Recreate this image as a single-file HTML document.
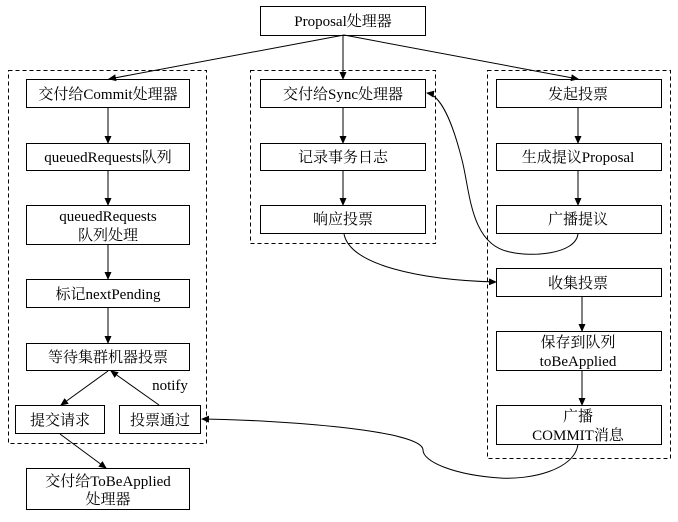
<!DOCTYPE html>
<html><head><meta charset="utf-8"><style>
html,body{margin:0;padding:0;background:#fff;}
svg text{font-family:"Liberation Serif","Noto Serif CJK SC",serif;font-size:15px;fill:#000;}
</style></head><body>
<svg width="678" height="517" viewBox="0 0 678 517" xmlns="http://www.w3.org/2000/svg">
<defs><marker id="a" markerWidth="8" markerHeight="8" refX="7" refY="4" orient="auto" markerUnits="userSpaceOnUse"><path d="M0,0.5 L8,4 L0,7.5 Z" fill="#000"/></marker></defs>
<g fill="none" stroke="#000" stroke-dasharray="4,3">
<rect x="8.5" y="70.5" width="198" height="373"/>
<rect x="250.5" y="70.5" width="185" height="173"/>
<rect x="487.5" y="70.5" width="183" height="388"/>
</g>
<g fill="#fff" stroke="#000">
<rect x="260.5" y="6.5" width="165" height="29"/>
<rect x="26.5" y="79.5" width="163" height="28"/>
<rect x="26.5" y="143.5" width="163" height="27"/>
<rect x="26.5" y="205.5" width="163" height="39"/>
<rect x="26.5" y="279.5" width="163" height="28"/>
<rect x="26.5" y="343.5" width="163" height="27"/>
<rect x="15.5" y="405.5" width="89" height="28"/>
<rect x="119.5" y="405.5" width="81" height="28"/>
<rect x="26.5" y="468.5" width="163" height="41"/>
<rect x="260.5" y="79.5" width="165" height="28"/>
<rect x="260.5" y="143.5" width="165" height="27"/>
<rect x="260.5" y="205.5" width="165" height="28"/>
<rect x="496.5" y="79.5" width="165" height="28"/>
<rect x="496.5" y="143.5" width="165" height="27"/>
<rect x="496.5" y="205.5" width="165" height="28"/>
<rect x="496.5" y="268.5" width="165" height="28"/>
<rect x="496.5" y="331.5" width="165" height="39"/>
<rect x="496.5" y="405.5" width="165" height="39"/>
</g>
<g stroke="#000" fill="none" marker-end="url(#a)">
<line x1="344" y1="35" x2="109" y2="79"/>
<line x1="343" y1="35" x2="343" y2="79"/>
<line x1="344" y1="35" x2="578" y2="79"/>
<line x1="108" y1="108" x2="108" y2="143"/>
<line x1="108" y1="171" x2="108" y2="205"/>
<line x1="108" y1="245" x2="108" y2="279"/>
<line x1="108" y1="308" x2="108" y2="343"/>
<line x1="108" y1="371" x2="61" y2="405"/>
<line x1="159" y1="405" x2="111" y2="371"/>
<line x1="60" y1="434" x2="106" y2="468"/>
<line x1="343" y1="108" x2="343" y2="143"/>
<line x1="343" y1="171" x2="343" y2="205"/>
<line x1="578" y1="108" x2="578" y2="143"/>
<line x1="578" y1="171" x2="578" y2="205"/>
<line x1="582" y1="297" x2="582" y2="331"/>
<line x1="582" y1="371" x2="582" y2="405"/>
<path d="M578,234 C575,255 530,257 510,252 C470,245 470,190 462,160 C452,120 440,95 427,93"/>
<path d="M344,234 C350,265 420,280 496,282"/>
<path d="M578,444 C575,470 530,480 500,478 C455,475 423,462 423,450 C423,430 280,420 202,419"/>
</g>
<g text-anchor="middle">
<text x="343" y="26">Proposal处理器</text>
<text x="108" y="99">交付给Commit处理器</text>
<text x="108" y="162">queuedRequests队列</text>
<text x="108" y="221">queuedRequests</text>
<text x="108" y="240">队列处理</text>
<text x="108" y="299">标记nextPending</text>
<text x="108" y="362">等待集群机器投票</text>
<text x="170" y="390">notify</text>
<text x="60" y="425">提交请求</text>
<text x="160" y="425">投票通过</text>
<text x="108" y="486">交付给ToBeApplied</text>
<text x="108" y="504">处理器</text>
<text x="343" y="99">交付给Sync处理器</text>
<text x="343" y="162">记录事务日志</text>
<text x="343" y="224">响应投票</text>
<text x="578" y="99">发起投票</text>
<text x="578" y="162">生成提议Proposal</text>
<text x="578" y="224">广播提议</text>
<text x="578" y="288">收集投票</text>
<text x="578" y="347">保存到队列</text>
<text x="578" y="366">toBeApplied</text>
<text x="578" y="421">广播</text>
<text x="578" y="440">COMMIT消息</text>
</g>
</svg>
</body></html>
